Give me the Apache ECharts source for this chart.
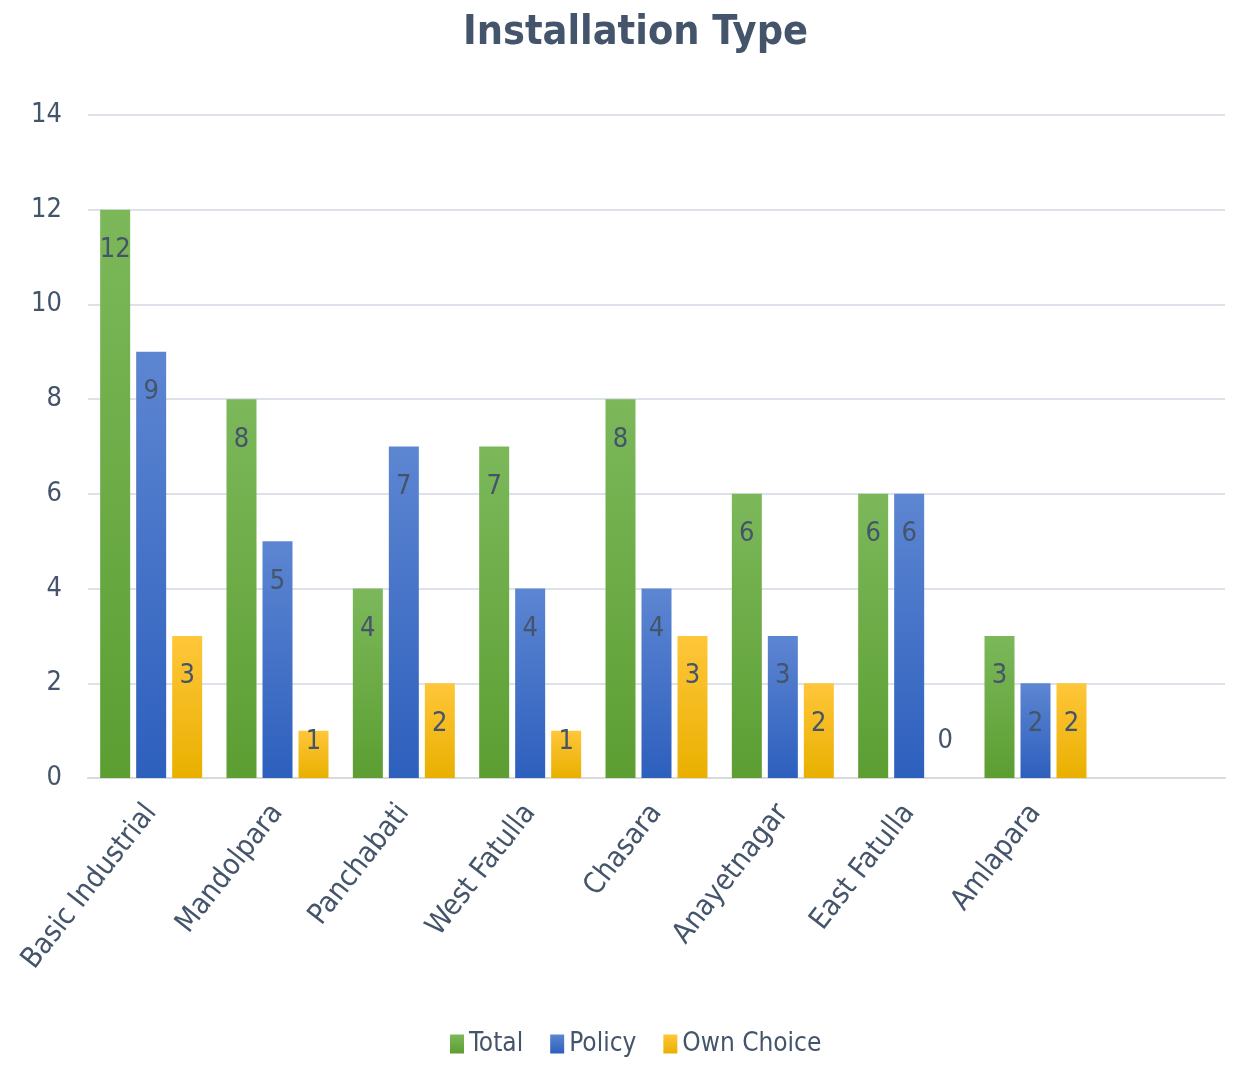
<!DOCTYPE html>
<html><head><meta charset="utf-8">
<script src="https://cdn.jsdelivr.net/npm/echarts@6/dist/echarts.min.js"></script>
<style>html,body{margin:0;padding:0;background:#fff}#c{width:1241px;height:1092px}</style>
</head><body><div id="c"></div>
<script>
const categories = ['Basic Industrial','Mandolpara','Panchabati','West Fatulla','Chasara','Anayetnagar','East Fatulla','Amlapara',''];
const totalValues = [12, 8, 4, 7, 8, 6, 6, 3, null];
const policyValues = [9, 5, 7, 4, 4, 3, 6, 2, null];
const ownChoiceValues = [3, 1, 2, 1, 3, 2, 0, 2, null];
const yTicks = [0, 2, 4, 6, 8, 10, 12, 14];

const FONT = "'Liberation Sans Narrow', 'DejaVu Sans Condensed', 'Liberation Sans', sans-serif";
const TXT = '#44546a';
function grad(top, bottom){
  return {type:'linear', x:0, y:0, x2:0, y2:1, colorStops:[{offset:0,color:top},{offset:1,color:bottom}]};
}
function mkData(vals){
  return vals.map(v => {
    if (v === 0) return {value:0, label:{position:'top', distance:24}};
    if (v === 1) return {value:1, label:{position:'insideTop', distance:-2}};
    return v;
  });
}
const lbl = {show:true, position:'insideTop', distance:27, color:TXT, fontFamily:FONT, fontSize:27};
const chart = echarts.init(document.getElementById('c'), null, {renderer:'canvas'});
chart.setOption({
  animation:false,
  title:{text:'Installation Type', left:458, top:8, textStyle:{fontFamily:FONT, fontWeight:'bold', fontSize:41, color:TXT}},
  legend:{bottom:30, left:445, itemWidth:14, itemHeight:19, itemGap:27, icon:'rect',
    textStyle:{fontFamily:FONT, fontSize:26, color:TXT},
    data:['Total','Policy','Own Choice']},
  grid:{left:88, right:16, top:115, bottom:314, containLabel:false},
  xAxis:{type:'category', data:categories,
    axisLine:{lineStyle:{color:'#d9d9d9', width:2}}, axisTick:{show:false},
    axisLabel:{rotate:52, interval:0, margin:30, color:TXT, fontFamily:FONT, fontSize:29}},
  yAxis:{type:'value', min:yTicks[0], max:yTicks[yTicks.length-1], interval:2,
    axisLine:{show:false}, axisTick:{show:false},
    splitLine:{lineStyle:{color:'#dde1ea', width:2}},
    axisLabel:{margin:26, color:TXT, fontFamily:FONT, fontSize:27}},
  series:[
    {name:'Total', type:'bar', data:mkData(totalValues), barWidth:30, barGap:'20%', barCategoryGap:'19%',
     itemStyle:{color:grad('#7cb85a','#5c9e32')}, label:lbl},
    {name:'Policy', type:'bar', data:mkData(policyValues), barWidth:30, barGap:'20%',
     itemStyle:{color:grad('#5d86d2','#2d5fbd')}, label:lbl},
    {name:'Own Choice', type:'bar', data:mkData(ownChoiceValues), barWidth:30, barGap:'20%',
     itemStyle:{color:grad('#ffc63a','#e9b000')}, label:lbl}
  ]
});
</script></body></html>
